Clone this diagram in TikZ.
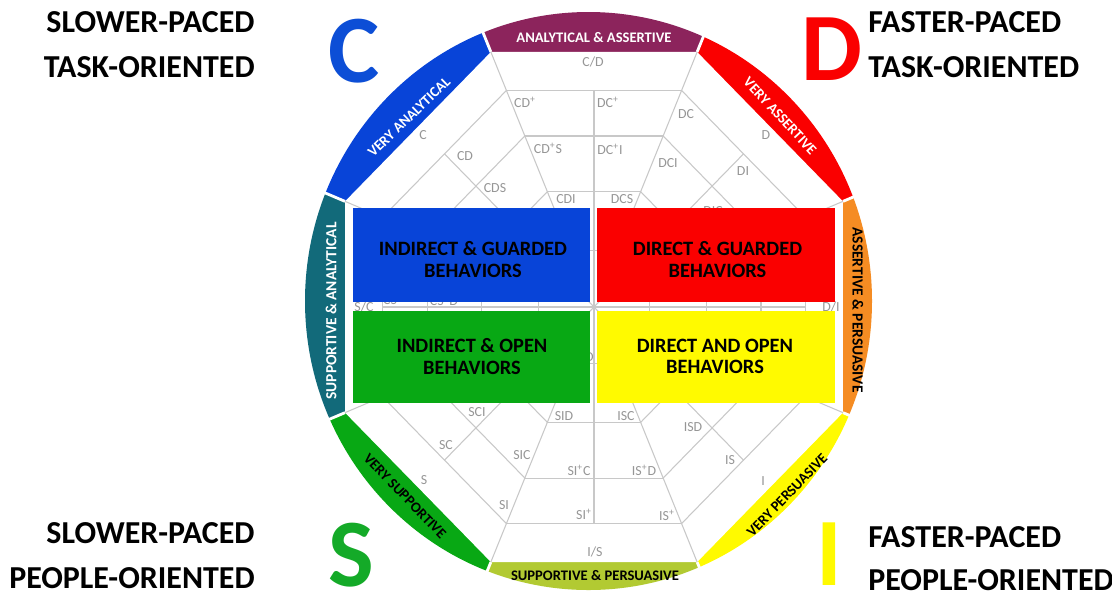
\documentclass[tikz,border=0pt]{standalone}
\usepackage{fontspec}
\setmainfont{Carlito}
\usetikzlibrary{calc}
\definecolor{cPurple}{RGB}{140,36,92}
\definecolor{cBlue}{RGB}{8,68,216}
\definecolor{cRed}{RGB}{250,0,0}
\definecolor{cOrange}{RGB}{245,140,35}
\definecolor{cYellow}{RGB}{255,250,0}
\definecolor{cLime}{RGB}{178,202,50}
\definecolor{cGreen}{RGB}{8,168,20}
\definecolor{cTeal}{RGB}{18,106,122}
\definecolor{cGridLine}{RGB}{200,200,200}
\definecolor{cGridText}{RGB}{150,150,150}
\definecolor{cBigC}{RGB}{12,78,214}
\definecolor{cBigS}{RGB}{20,170,40}
\begin{document}
\begin{tikzpicture}[x=0.02cm,y=-0.02cm,
  gridline/.style={draw=cGridLine, line width=0.6pt},
  celltext/.style={text=cGridText, inner sep=0pt, font=\fontsize{7.9}{9}\selectfont},
  corner/.style={inner sep=0pt, font=\bfseries\fontsize{18.2}{20}\selectfont},
  bigletter/.style={inner sep=0pt, font=\bfseries\fontsize{55}{60}\selectfont},
  ringtext/.style={inner sep=0pt, font=\bfseries\fontsize{8.3}{9}\selectfont},
  sidetext/.style={inner sep=0pt, font=\bfseries\fontsize{8.8}{9}\selectfont},
  boxtext/.style={inner sep=0pt, align=center, font=\bfseries\fontsize{11.6}{12.2}\selectfont},
  behbox/.style={draw=none, inner sep=0pt, anchor=north west},
  separator/.style={draw=white, line width=1.6pt}]
\useasboundingbox (0,0) rectangle (1112,596);
\fill[white] (0,0) rectangle (1112,596);

% octagon vertices
\coordinate (O) at (594,307);
\begin{scope}[shift={(594,307)}, xscale=0.988, yscale=1.012]
  \coordinate (V1) at (-104.38,-252);
  \coordinate (V2) at (104.38,-252);
  \coordinate (V3) at (252,-104.38);
  \coordinate (V4) at (252,104.38);
  \coordinate (V5) at (104.38,252);
  \coordinate (V6) at (-104.38,252);
  \coordinate (V7) at (-252,104.38);
  \coordinate (V8) at (-252,-104.38);
\end{scope}

% ring segments
\foreach \a/\b/\c in {V1/V2/cPurple, V2/V3/cRed, V3/V4/cOrange, V4/V5/cYellow,
                      V5/V6/cLime, V6/V7/cGreen, V7/V8/cTeal, V8/V1/cBlue}{
  \begin{scope}
    \clip (O) -- ($(O)!4!(\a)$) -- ($(O)!4!(\b)$) -- cycle;
    \fill[\c] (588.5,301) ellipse [x radius=283.5, y radius=289];
  \end{scope}
}
\foreach \v in {V1,V2,V3,V4,V5,V6,V7,V8}{
  \draw[separator] (\v) -- ($(O)!1.3!(\v)$);
}
\fill[white] (V1) -- (V2) -- (V3) -- (V4) -- (V5) -- (V6) -- (V7) -- (V8) -- cycle;

% grid
\begin{scope}[shift={(594,307)}, xscale=0.988, yscale=1.012]
  \foreach \k in {0,...,7}{
    \begin{scope}[rotate=45*\k]
      \draw[gridline] (-104.38,-252) -- (-23.2,-56);
      \foreach \r in {214,169,114,56}{
        \draw[gridline] ({-0.41421*\r},-\r) -- ({0.41421*\r},-\r);
      }
      \draw[gridline] (0,-214) -- (0,0);
    \end{scope}
  }
\end{scope}

% cell labels
\node[celltext] (tCslD) at (593,62) {C/D};
\node[celltext] (tCDp) at (525,102) {CD\textsuperscript{+}};
\node[celltext] (tDCp) at (608,102) {DC\textsuperscript{+}};
\node[celltext] (tCDpS) at (548,148) {CD\textsuperscript{+}S};
\node[celltext] (tDCpI) at (610,149) {DC\textsuperscript{+}I};
\node[celltext] (tCDI) at (566,199) {CDI};
\node[celltext] (tDCS) at (622,199) {DCS};
\node[celltext] (tDC) at (686,114) {DC};
\node[celltext] (tD) at (766,135) {D};
\node[celltext] (tDCI) at (668,163) {DCI};
\node[celltext] (tDI) at (743,171) {DI};
\node[celltext] (tDIC) at (713,211) {DIC};
\node[celltext] (tC) at (423,135) {C};
\node[celltext] (tCD) at (465,156) {CD};
\node[celltext] (tCDS) at (495,188) {CDS};
\node[celltext] (tSslC) at (364,307) {S/C};
\node[celltext] (tCS) at (390,300) {CS};
\node[celltext] (tCSpD) at (444,300) {CS\textsuperscript{+}D};
\node[celltext] (tSCD) at (495,317) {SCD};
\node[celltext] (tDslI) at (831,307) {D/I};
\node[celltext, anchor=east] (tSD) at (594,357) {SD};
\node[celltext] (tSCI) at (477,412) {SCI};
\node[celltext] (tSID) at (564,416) {SID};
\node[celltext] (tSC) at (446,445) {SC};
\node[celltext] (tSIC) at (522,455) {SIC};
\node[celltext] (tS) at (424,480) {S};
\node[celltext] (tSIpC) at (579,470) {SI\textsuperscript{+}C};
\node[celltext] (tSI) at (504,505) {SI};
\node[celltext] (tSIp) at (584,514) {SI\textsuperscript{+}};
\node[celltext] (tIslS) at (595,552) {I/S};
\node[celltext] (tISC) at (626,416) {ISC};
\node[celltext] (tISD) at (693,427) {ISD};
\node[celltext] (tISpD) at (644,470) {IS\textsuperscript{+}D};
\node[celltext] (tIS) at (730,460) {IS};
\node[celltext] (tI) at (763,481) {I};
\node[celltext] (tISp) at (667,515) {IS\textsuperscript{+}};

% behaviour boxes
\node[behbox, fill=cBlue, minimum width=4.74cm, minimum height=1.88cm] (bBlue) at (353,208) {};
\node[behbox, fill=cRed, minimum width=4.76cm, minimum height=1.88cm] (bRed) at (597,208) {};
\node[behbox, fill=cGreen, minimum width=4.74cm, minimum height=1.84cm] (bGreen) at (353,311) {};
\node[behbox, fill=cYellow, minimum width=4.76cm, minimum height=1.84cm] (bYellow) at (597,311) {};
\node[boxtext] (xBlue) at (473,259.5) {INDIRECT \& GUARDED\\BEHAVIORS};
\node[boxtext] (xRed) at (717.5,259.5) {DIRECT \& GUARDED\\BEHAVIORS};
\node[boxtext] (xGreen) at (472,356.5) {INDIRECT \& OPEN\\BEHAVIORS};
\node[boxtext] (xYellow) at (715,356.5) {DIRECT AND OPEN\\BEHAVIORS};

% ring texts
\node[ringtext, text=white] (rTop) at (594,37.5) {ANALYTICAL \& ASSERTIVE};
\node[ringtext, text=black] (rBottom) at (595,575.5) {SUPPORTIVE \& PERSUASIVE};
\node[sidetext, text=white, rotate=90] (rLeft) at (331,311) {SUPPORTIVE \& ANALYTICAL};
\node[sidetext, text=black, rotate=-90] (rRight) at (858,310) {ASSERTIVE \& PERSUASIVE};
\node[ringtext, text=white, rotate=44] (rTL) at (409,117) {VERY ANALYTICAL};
\node[ringtext, text=white, rotate=-47] (rTR) at (780,116) {VERY ASSERTIVE};
\node[ringtext, text=black, rotate=-46] (rBL) at (405,496) {VERY SUPPORTIVE};
\node[ringtext, text=black, rotate=46] (rBR) at (787,495) {VERY PERSUASIVE};

% corner texts
\node[corner, anchor=east] (kTL1) at (255,22) {SLOWER-PACED};
\node[corner, anchor=east] (kTL2) at (255,67) {TASK-ORIENTED};
\node[corner, anchor=west] (kTR1) at (868,22) {FASTER-PACED};
\node[corner, anchor=west] (kTR2) at (868,67) {TASK-ORIENTED};
\node[corner, anchor=east] (kBL1) at (255,533) {SLOWER-PACED};
\node[corner, anchor=east] (kBL2) at (255,578) {PEOPLE-ORIENTED};
\node[corner, anchor=west] (kBR1) at (868,537) {FASTER-PACED};
\node[corner, anchor=west] (kBR2) at (868,580) {PEOPLE-ORIENTED};

% big letters
\node[bigletter, text=cBigC] (gC) at (354,51) {C};
\node[bigletter, text=cRed] (gD) at (832,49) {D};
\node[bigletter, text=cBigS] (gS) at (351,555) {S};
\node[bigletter, text=cYellow] (gI) at (829,554) {I};
\end{tikzpicture}
\end{document}
